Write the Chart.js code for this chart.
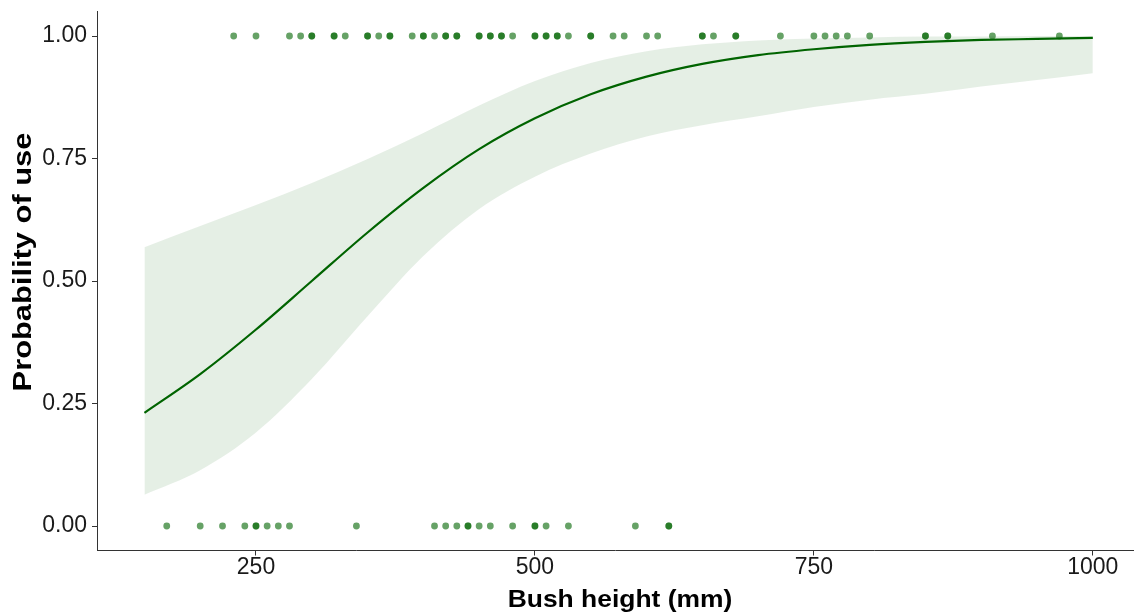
<!DOCTYPE html>
<html>
<head>
<meta charset="utf-8">
<script src="https://cdn.jsdelivr.net/npm/chart.js@4/dist/chart.umd.min.js"></script>
<style>
  html, body { margin: 0; padding: 0; background: #ffffff; }
  canvas { display: block; }
</style>
</head>
<body>
<canvas id="chartUso" width="1137" height="615"></canvas>
<script>
// bush heights (mm) where the fitted curve and its band were read
const alturas = [150, 200, 250, 300, 350, 400, 450, 500, 550, 600, 650, 700, 750, 800, 850, 900, 950, 1000];
const probAjustada = [0.231, 0.310, 0.401, 0.500, 0.599, 0.690, 0.769, 0.832, 0.881, 0.917, 0.943, 0.961, 0.973, 0.982, 0.988, 0.992, 0.994, 0.996];
const probInferior = [0.064, 0.114, 0.191, 0.300, 0.428, 0.551, 0.647, 0.713, 0.760, 0.795, 0.818, 0.836, 0.855, 0.870, 0.882, 0.897, 0.910, 0.924];
const probSuperior = [0.569, 0.612, 0.655, 0.700, 0.749, 0.802, 0.858, 0.908, 0.945, 0.969, 0.983, 0.991, 0.995, 0.997, 0.999, 0.999, 1.000, 1.000];

// observed bushes: used (1) and not used (0); repeated heights overlap
const alturasUsadas = [230, 250, 280, 290, 300, 300, 320, 320, 330, 350, 350, 360, 370, 370, 390, 400, 400, 410,
    420, 420, 430, 430, 450, 450, 460, 460, 470, 470, 480, 500, 500, 510, 510, 520, 520, 530, 550, 550,
    570, 580, 600, 610, 650, 650, 660, 680, 680, 720, 750, 760, 770, 780, 800, 850, 850, 870, 870, 910, 970];
const alturasNaoUsadas = [170, 200, 220, 240, 250, 250, 260, 270, 280, 340, 410, 420, 430, 440, 440, 450, 460,
    480, 500, 500, 510, 530, 590, 620, 620];

const ticksX = [250, 500, 750, 1000];
const ticksY = [0, 0.25, 0.5, 0.75, 1];

const tituloX = 'Bush height (mm)';
const tituloY = 'Probability of use';

const verdeEscuro = '#006400';
const fonte = "'Liberation Sans', Arial, sans-serif";

function pares(xs, ys) {
    return xs.map((x, i) => ({ x: x, y: ys[i] }));
}

const pontos = alturasUsadas.map(x => ({ x: x, y: 1 }))
    .concat(alturasNaoUsadas.map(x => ({ x: x, y: 0 })));

// axis titles, drawn a little wider than the plain font
const titulosEixos = {
    id: 'titulosEixos',
    afterDraw(chart) {
        const ctx = chart.ctx;
        const area = chart.chartArea;
        ctx.save();
        ctx.fillStyle = '#000000';
        ctx.textAlign = 'center';
        ctx.textBaseline = 'middle';

        ctx.save();
        ctx.font = 'bold 23.4px ' + fonte;
        ctx.translate((area.left + area.right) / 2 + 5, chart.height - 14);
        ctx.scale(1.13, 1);
        ctx.fillText(tituloX, 0, 0);
        ctx.restore();

        ctx.save();
        ctx.font = 'bold 25.5px ' + fonte;
        ctx.translate(24, (area.top + area.bottom) / 2 - 19);
        ctx.rotate(-Math.PI / 2);
        ctx.scale(1.21, 1);
        ctx.fillText(tituloY, 0, 0);
        ctx.restore();

        ctx.restore();
    }
};

const dados = {
    datasets: [
        {
            type: 'line',
            label: 'superior',
            data: pares(alturas, probSuperior),
            borderColor: 'transparent',
            borderWidth: 0,
            pointRadius: 0,
            cubicInterpolationMode: 'monotone',
            fill: '+1',
            backgroundColor: 'rgba(0, 100, 0, 0.1)',
            order: 2
        },
        {
            type: 'line',
            label: 'inferior',
            data: pares(alturas, probInferior),
            borderColor: 'transparent',
            borderWidth: 0,
            pointRadius: 0,
            cubicInterpolationMode: 'monotone',
            fill: false,
            order: 2
        },
        {
            type: 'line',
            label: 'ajuste',
            data: pares(alturas, probAjustada),
            borderColor: verdeEscuro,
            borderWidth: 2.2,
            pointRadius: 0,
            cubicInterpolationMode: 'monotone',
            fill: false,
            order: 1
        },
        {
            type: 'scatter',
            label: 'observado',
            data: pontos,
            backgroundColor: 'rgba(0, 100, 0, 0.6)',
            borderWidth: 0,
            pointRadius: 3.4,
            order: 3
        }
    ]
};

const configuracao = {
    type: 'scatter',
    data: dados,
    options: {
        responsive: false,
        animation: false,
        devicePixelRatio: 1,
        layout: { padding: { top: 11.5, right: 0, bottom: 0, left: 0 } },
        plugins: {
            legend: { display: false },
            tooltip: { enabled: false }
        },
        scales: {
            x: {
                type: 'linear',
                position: 'bottom',
                min: 107.5,
                max: 1036,
                afterBuildTicks: s => { s.ticks = ticksX.map(v => ({ value: v })); },
                afterFit: s => {
                    s.height = 64.5;
                    s.paddingLeft = 0;
                    s.paddingRight = 0;
                },
                grid: { display: true, drawOnChartArea: false, drawTicks: true, tickLength: 5, color: '#333333', lineWidth: 1 },
                border: { display: true, color: '#333333', width: 1 },
                ticks: {
                    autoSkip: false,
                    maxRotation: 0,
                    padding: 1,
                    color: '#1a1a1a',
                    font: { family: fonte, size: 23, lineHeight: 1 },
                    callback: v => String(v)
                },
                title: { display: false }
            },
            y: {
                type: 'linear',
                position: 'left',
                min: -0.05,
                max: 1.05,
                afterBuildTicks: s => { s.ticks = ticksY.map(v => ({ value: v })); },
                afterFit: s => {
                    s.width = 97;
                    s.paddingTop = 0;
                    s.paddingBottom = 0;
                },
                grid: { display: true, drawOnChartArea: false, drawTicks: true, tickLength: 5, color: '#333333', lineWidth: 1 },
                border: { display: true, color: '#333333', width: 1 },
                ticks: {
                    padding: 5,
                    color: '#1a1a1a',
                    font: { family: fonte, size: 23, lineHeight: 1 },
                    callback: v => Number(v).toFixed(2)
                },
                title: { display: false }
            }
        }
    },
    plugins: [titulosEixos]
};

const graficoUso = new Chart(document.getElementById('chartUso'), configuracao);
</script>
</body>
</html>
